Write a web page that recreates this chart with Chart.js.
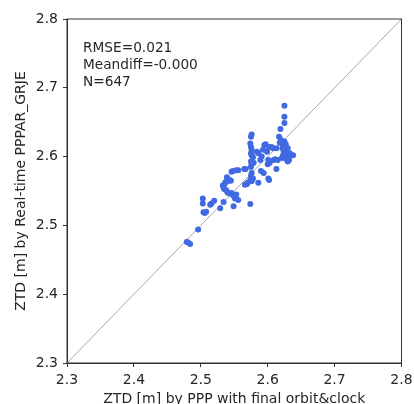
<!DOCTYPE html>
<html lang="en">
<head>
  <meta charset="UTF-8">
  <title>ZTD comparison</title>
  <style>
    body {
      margin: 0;
      background: #fff;
    }
    canvas {
      display: block;
    }
  </style>
</head>
<body>

  <canvas id="chartCanvas" width="414" height="404"></canvas>

  <script src="https://cdn.jsdelivr.net/npm/chart.js"></script>
  <script>
    // ZTD from PPP with final products (x) vs real-time PPPAR_GRJE (y)
    const ztdFinal = [
      2.479, 2.481, 2.484, 2.496, 2.503, 2.503, 2.504, 2.506, 2.508, 2.514,
      2.516, 2.520, 2.529, 2.534, 2.533, 2.534, 2.536, 2.538, 2.537, 2.541,
      2.543, 2.540, 2.544, 2.546, 2.546, 2.549, 2.551, 2.553, 2.556, 2.549,
      2.548, 2.553, 2.556, 2.565, 2.567, 2.566, 2.569, 2.570, 2.574, 2.574,
      2.575, 2.576, 2.578, 2.576, 2.575, 2.576, 2.575, 2.576, 2.575, 2.576,
      2.575, 2.574, 2.575, 2.576, 2.584, 2.586, 2.586, 2.589, 2.591, 2.593,
      2.594, 2.595, 2.597, 2.599, 2.600, 2.601, 2.601, 2.602, 2.603, 2.602,
      2.606, 2.608, 2.609, 2.611, 2.613, 2.613, 2.615, 2.617, 2.619, 2.620,
      2.621, 2.623, 2.623, 2.624, 2.625, 2.625, 2.625, 2.625, 2.626, 2.627,
      2.628, 2.629, 2.630, 2.630, 2.632, 2.633, 2.635, 2.638, 2.627, 2.622,
      2.618, 2.590, 2.578, 2.579, 2.535, 2.539, 2.545
    ];
    const ztdRealtime = [
      2.476, 2.475, 2.473, 2.494, 2.539, 2.532, 2.519, 2.518, 2.520, 2.530,
      2.532, 2.536, 2.525, 2.534, 2.558, 2.555, 2.561, 2.551, 2.563, 2.565,
      2.566, 2.548, 2.546, 2.547, 2.578, 2.543, 2.539, 2.545, 2.537, 2.528,
      2.579, 2.580, 2.580, 2.582, 2.582, 2.559, 2.560, 2.562, 2.531, 2.566,
      2.572, 2.564, 2.568, 2.576, 2.585, 2.589, 2.593, 2.602, 2.605, 2.610,
      2.614, 2.619, 2.629, 2.632, 2.607, 2.605, 2.562, 2.595, 2.600, 2.610,
      2.576, 2.617, 2.618, 2.607, 2.589, 2.595, 2.568, 2.614, 2.591, 2.566,
      2.614, 2.612, 2.595, 2.596, 2.582, 2.612, 2.595, 2.629, 2.640, 2.624,
      2.598, 2.617, 2.602, 2.607, 2.622, 2.649, 2.658, 2.674, 2.610, 2.599,
      2.596, 2.605, 2.612, 2.593, 2.595, 2.605, 2.602, 2.602, 2.618, 2.612,
      2.620, 2.579, 2.599, 2.591, 2.553, 2.570, 2.565
    ];
    const axisRange = [2.3, 2.8];
    const tickValues = [2.3, 2.4, 2.5, 2.6, 2.7, 2.8];
    const statsLines = ['RMSE=0.021', 'Meandiff=-0.000', 'N=647'];
    const xTitle = 'ZTD [m] by PPP with final orbit&clock';
    const yTitle = 'ZTD [m] by Real-time PPPAR_GRJE';

    const fontFamily = "'DejaVu Sans', sans-serif";
    const textColor = '#262626';
    const spineColor = '#333';

    const points = ztdFinal.map((x, i) => ({ x: x, y: ztdRealtime[i] }));
    const diagonal = axisRange.map(v => ({ x: v, y: v }));

    // top/right spines plus the stats text inside the box
    const framePlugin = {
      id: 'frame',
      afterDraw(chart) {
        const { ctx, chartArea } = chart;
        ctx.save();
        ctx.strokeStyle = spineColor;
        ctx.lineWidth = 1;
        ctx.strokeRect(chartArea.left, chartArea.top,
          chartArea.right - chartArea.left, chartArea.bottom - chartArea.top);
        ctx.fillStyle = textColor;
        ctx.font = '13.7px ' + fontFamily;
        ctx.textBaseline = 'middle';
        ctx.textAlign = 'left';
        statsLines.forEach((line, i) => {
          ctx.fillText(line, chartArea.left + 16, chartArea.top + 29 + i * 17);
        });
        ctx.restore();
      }
    };

    const setTicks = scale => {
      scale.ticks = tickValues.map(v => ({ value: v }));
    };

    function axis(title, isX) {
      return {
        type: 'linear',
        min: axisRange[0],
        max: axisRange[1],
        afterBuildTicks: setTicks,
        afterFit: scale => {
          if (isX) scale.height = 41;
          else scale.width = 67;
          // let layout padding alone decide the plot box
          scale.paddingLeft = 0;
          scale.paddingRight = 0;
          scale.paddingTop = 0;
          scale.paddingBottom = 0;
        },
        grid: {
          display: true,
          drawOnChartArea: false,
          drawTicks: true,
          tickLength: 4,
          tickColor: spineColor
        },
        border: { display: true, color: spineColor, width: 1 },
        ticks: {
          autoSkip: false,
          maxRotation: 0,
          padding: 5,
          color: textColor,
          font: { family: fontFamily, size: 14 },
          callback: v => v.toFixed(1)
        },
        title: {
          display: true,
          text: title,
          color: textColor,
          font: { family: fontFamily, size: 14, lineHeight: isX ? '10px' : 1 },
          padding: isX ? { top: 0, bottom: 0 } : { top: 14, bottom: 0 }
        }
      };
    }

    new Chart(document.getElementById('chartCanvas').getContext('2d'), {
      type: 'scatter',
      data: {
        datasets: [{
          label: 'ZTD',
          data: points,
          order: 0,
          backgroundColor: '#4169e1',
          borderWidth: 0,
          pointRadius: 3
        }, {
          label: '1:1',
          type: 'line',
          data: diagonal,
          order: 1,
          borderColor: '#a8a8a8',
          borderWidth: 1,
          pointRadius: 0,
          fill: false
        }]
      },
      options: {
        responsive: false,
        animation: false,
        devicePixelRatio: 1,
        layout: { padding: { top: 19, right: 12.5, left: 0, bottom: 0 } },
        plugins: {
          legend: { display: false },
          tooltip: { enabled: false }
        },
        scales: {
          x: axis(xTitle, true),
          y: axis(yTitle, false)
        }
      },
      plugins: [framePlugin]
    });
  </script>

</body>
</html>
